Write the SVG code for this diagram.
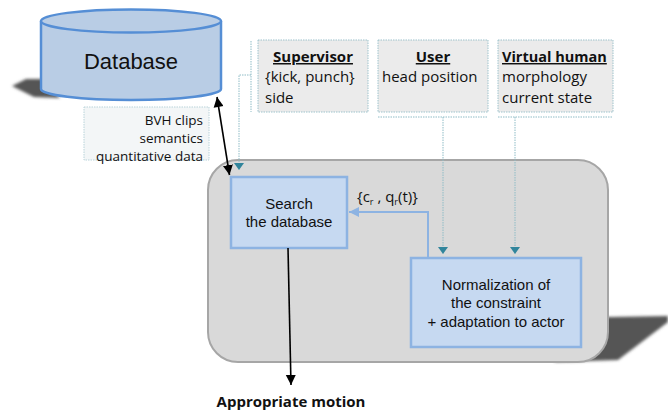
<svg xmlns="http://www.w3.org/2000/svg" width="668" height="413" viewBox="0 0 668 413">
<defs>
<style>
.t{font-family:"Liberation Sans",Arial,sans-serif;fill:#111}
.c{font-family:"Open Sans","Liberation Sans",sans-serif;fill:#111}
.info{fill:#ebebeb;stroke:#9ec3cc;stroke-width:1;stroke-dasharray:1.5 1}
.proc{fill:#c6d9f1;stroke:#8db3e2;stroke-width:2.5}
.dot{fill:none;stroke:#8fbcc6;stroke-width:1;stroke-dasharray:1.5 1}
.blk{fill:none;stroke:#000;stroke-width:1.6}
</style>
<filter id="blur" x="-20%" y="-20%" width="140%" height="140%"><feGaussianBlur stdDeviation="1.8"/></filter>
<marker id="tri" markerWidth="10" markerHeight="10" refX="7" refY="5" orient="auto" markerUnits="userSpaceOnUse">
<path d="M0,0 L7,5 L0,10 Z" fill="#31859c"/>
</marker>
<marker id="blkArr" markerWidth="12" markerHeight="12" refX="10" refY="5" orient="auto" markerUnits="userSpaceOnUse">
<path d="M0,0 L10,5 L0,10 Z" fill="#000"/>
</marker>
<marker id="blkArrS" markerWidth="12" markerHeight="12" refX="0" refY="5" orient="auto" markerUnits="userSpaceOnUse">
<path d="M10,0 L0,5 L10,10 Z" fill="#000"/>
</marker>
<marker id="bluArr" markerWidth="12" markerHeight="12" refX="10" refY="5" orient="auto" markerUnits="userSpaceOnUse">
<path d="M0,0 L10,5 L0,10 Z" fill="#8db3e2"/>
</marker>
</defs>
<rect width="668" height="413" fill="#fff"/>

<!-- shadows -->
<polygon points="555,318 668,316 668,322 618,360 555,362" fill="#555" filter="url(#blur)"/>
<polygon points="42,79 26,79 12,86 34,97 60,98" fill="#555" filter="url(#blur)"/>

<g id="container">
<rect x="208" y="160" width="400" height="202" rx="30" fill="#d9d9d9" stroke="#a6a6a6" stroke-width="2"/>
</g>

<g id="database">
<path d="M41,21 L41,89 A90,11 0 0 0 221,89 L221,21" fill="#b9cde5" stroke="#558ed5" stroke-width="2.5"/>
<ellipse cx="131" cy="21" rx="90" ry="11.5" fill="#b9cde5" stroke="#558ed5" stroke-width="2.5"/>
<text class="t" x="131" y="69" font-size="22" text-anchor="middle">Database</text>
</g>

<g id="db-label">
<rect x="84" y="107" width="125" height="53" fill="#f3f6f7" stroke="#b9d3d9" stroke-width="1" stroke-dasharray="1.5 1"/>
<text class="c" font-size="13.5" text-anchor="end"><tspan x="203" y="125">BVH clips</tspan><tspan x="203" y="143">semantics</tspan><tspan x="203" y="161">quantitative data</tspan></text>
</g>

<g id="supervisor">
<rect class="info" x="258" y="40" width="110" height="72"/>
<text class="c" x="313" y="62" font-size="15" font-weight="bold" text-anchor="middle" text-decoration="underline">Supervisor</text>
<text class="c" font-size="15"><tspan x="265" y="82">{kick, punch}</tspan><tspan x="265" y="103">side</tspan></text>
</g>

<g id="user">
<rect class="info" x="378" y="40" width="110" height="72"/>
<text class="c" x="433" y="62" font-size="15" font-weight="bold" text-anchor="middle" text-decoration="underline">User</text>
<text class="c" x="382" y="82" font-size="15">head position</text>
</g>

<g id="virtual-human">
<rect class="info" x="498" y="40" width="115" height="72"/>
<text class="c" x="502" y="62" font-size="14.5" font-weight="bold" text-decoration="underline">Virtual human</text>
<text class="c" font-size="15"><tspan x="502" y="82">morphology</tspan><tspan x="502" y="103">current state</tspan></text>
</g>

<g id="search">
<rect class="proc" x="231" y="177" width="116" height="71"/>
<text class="t" font-size="15" text-anchor="middle"><tspan x="289" y="209">Search</tspan><tspan x="289" y="227">the database</tspan></text>
</g>

<g id="normalization">
<rect class="proc" x="411" y="258" width="170" height="89"/>
<text class="t" font-size="15" text-anchor="middle"><tspan x="496" y="290">Normalization of</tspan><tspan x="496" y="308">the constraint</tspan><tspan x="496" y="327">+ adaptation to actor</tspan></text>
</g>

<g id="output-label">
<text class="c" x="291" y="407" font-size="15" font-weight="bold" text-anchor="middle">Appropriate motion</text>
</g>

<g id="connectors">
<line class="dot" x1="251" y1="41" x2="251" y2="112"/>
<path class="dot" d="M251,75 L239,75 L239,170" marker-end="url(#tri)"/>
<line class="dot" x1="378" y1="117" x2="488" y2="117"/>
<line class="dot" x1="498" y1="117" x2="613" y2="117"/>
<path class="dot" d="M443,117 L443,254" marker-end="url(#tri)"/>
<path class="dot" d="M515,117 L515,254" marker-end="url(#tri)"/>
<line class="blk" x1="217" y1="97" x2="229.5" y2="175" marker-start="url(#blkArrS)" marker-end="url(#blkArr)"/>
<line class="blk" x1="288" y1="248" x2="291" y2="385" marker-end="url(#blkArr)"/>
<path d="M428,258 L428,212 L349,212" fill="none" stroke="#8db3e2" stroke-width="2" marker-end="url(#bluArr)"/>
<text class="c" font-size="15" x="357" y="202">{c<tspan font-size="9" dy="3">r</tspan><tspan dy="-3"> , q</tspan><tspan font-size="9" dy="3">r</tspan><tspan dy="-3">(t)}</tspan></text>
</g>
</svg>
